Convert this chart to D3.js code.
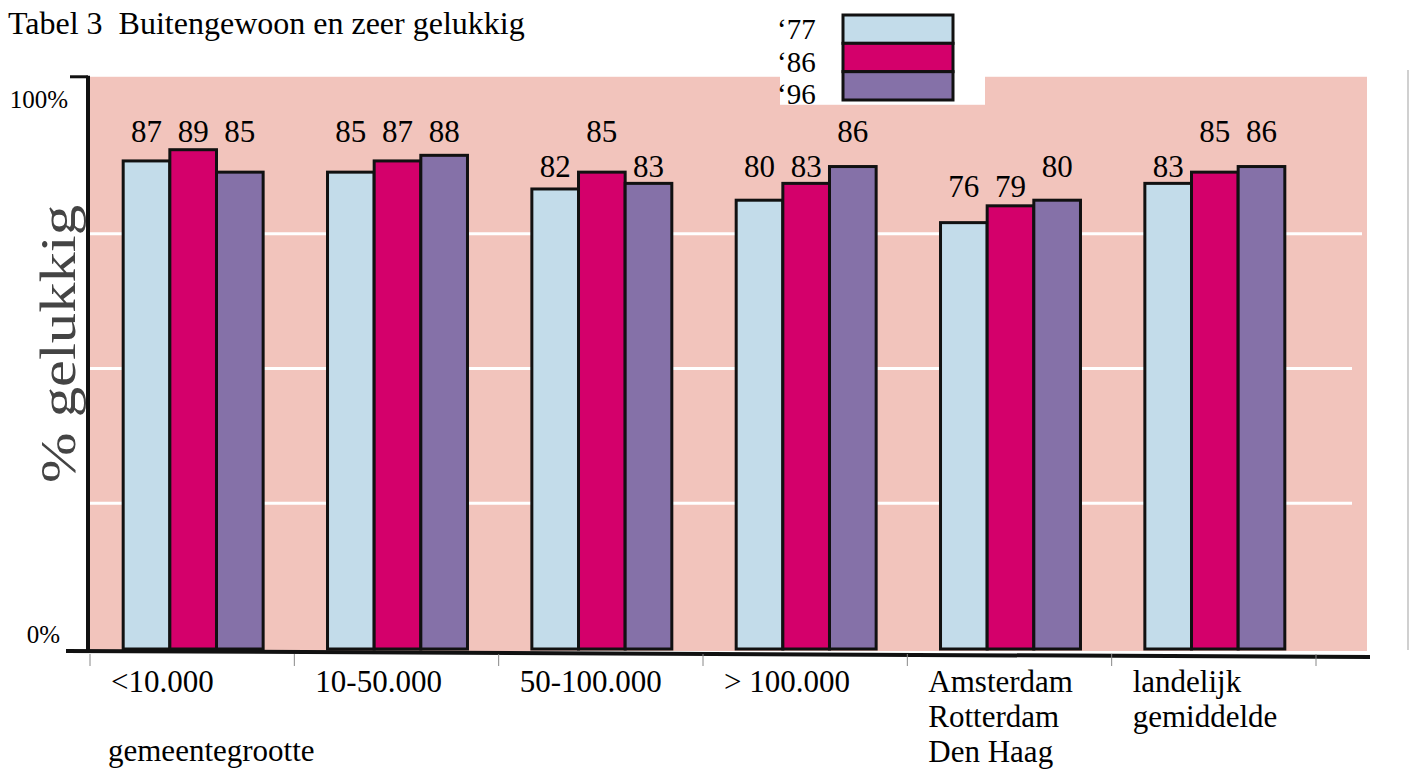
<!DOCTYPE html>
<html>
<head>
<meta charset="utf-8">
<script src="https://cdn.jsdelivr.net/npm/d3@7"></script>
<style>
  body { margin: 0; background: #fff; }
  text { font-family: "Liberation Serif", "Times New Roman", serif; fill: #000; }
</style>
</head>
<body>
<div id="cont"></div>
<script>
// data
var categories = ["<10.000", "10-50.000", "50-100.000", "> 100.000", "Amsterdam\nRotterdam\nDen Haag", "landelijk\ngemiddelde"];
var series = ["\u201877", "\u201886", "\u201896"];
var values77 = [87, 85, 82, 80, 76, 83];
var values86 = [89, 87, 85, 83, 79, 85];
var values96 = [85, 88, 83, 86, 80, 86];
var yTickLabels = ["0%", "100%"];
var gridValues = [26, 50, 74];
var colors = ["#c3dcea", "#d4006b", "#8571a8"];

var width = 1412, height = 771;

var svg = d3.select("#cont").append("svg")
  .attr("width", width)
  .attr("height", height);

var xScale = d3.scaleBand().domain(categories).range([91, 1317]).paddingInner(0.315).paddingOuter(0.1575),
  xInner = d3.scaleBand().domain(series).range([0, xScale.bandwidth()]),
  yScale = d3.scaleLinear().domain([0, 100]).range([649, 88]);

var step = xScale.step();
var plotLeft = 88, plotRight = 1367, plotTop = yScale(102), plotBottom = yScale(0) + 2;

// rows of values per bar
var rows = categories.map(function(c, i) {
  return { cat: c, vals: [values77[i], values86[i], values96[i]] };
});

// pink background
svg.append("rect")
  .attr("x", plotLeft)
  .attr("y", plotTop)
  .attr("width", plotRight - plotLeft)
  .attr("height", plotBottom - plotTop)
  .attr("fill", "#f2c4bc");

// white cut-out behind the legend
svg.append("rect")
  .attr("x", 780)
  .attr("y", plotTop - 2)
  .attr("width", 205)
  .attr("height", 30)
  .attr("fill", "#fff");

// thin grey line at the far right
svg.append("line")
  .attr("x1", 1408).attr("x2", 1408)
  .attr("y1", 70).attr("y2", 650)
  .attr("stroke", "#d0d0d0")
  .attr("stroke-width", 2);

// white grid lines
svg.append("g")
  .selectAll("line")
  .data(gridValues)
  .enter().append("line")
  .attr("x1", plotLeft)
  .attr("x2", function(d, i) { return i == 2 ? plotRight - 5 : plotRight - 15; })
  .attr("y1", function(d) { return yScale(d); })
  .attr("y2", function(d) { return yScale(d); })
  .attr("stroke", "#fff")
  .attr("stroke-width", 3);

// bars
var groups = svg.append("g")
  .selectAll(".group")
  .data(rows)
  .enter().append("g")
  .attr("class", "group")
  .attr("transform", function(d) { return "translate(" + xScale(d.cat) + ",0)"; });

groups.selectAll(".bar")
  .data(function(d) { return d.vals.map(function(v, j) { return { s: series[j], v: v, j: j }; }); })
  .enter().append("rect")
  .attr("class", "bar")
  .attr("x", function(d) { return xInner(d.s); })
  .attr("y", function(d) { return yScale(d.v); })
  .attr("width", xInner.bandwidth())
  .attr("height", function(d) { return yScale(0) - yScale(d.v); })
  .attr("fill", function(d) { return colors[d.j]; })
  .attr("stroke", "#111")
  .attr("stroke-width", 3);

// value labels sit on three rows
var labelRow = d3.scaleThreshold().domain([80, 85]).range([80.6, 84.2, 90.4]);

groups.selectAll(".val")
  .data(function(d) { return d.vals.map(function(v, j) { return { s: series[j], v: v }; }); })
  .enter().append("text")
  .attr("class", "val")
  .attr("x", function(d) { return xInner(d.s) + xInner.bandwidth() / 2; })
  .attr("y", function(d) { return yScale(labelRow(d.v)); })
  .attr("text-anchor", "middle")
  .style("font-size", "31px")
  .text(function(d) { return d.v; });

// axes
svg.append("line")
  .attr("x1", plotLeft).attr("x2", plotLeft)
  .attr("y1", plotTop - 1).attr("y2", plotBottom + 1)
  .attr("stroke", "#111").attr("stroke-width", 4);

svg.append("line")
  .attr("x1", 70).attr("x2", plotLeft)
  .attr("y1", plotTop).attr("y2", plotTop)
  .attr("stroke", "#111").attr("stroke-width", 3);

svg.append("line")
  .attr("x1", 66).attr("x2", plotRight + 3)
  .attr("y1", plotBottom).attr("y2", plotBottom + 6)
  .attr("stroke", "#111").attr("stroke-width", 4);

// small ticks at category boundaries
svg.append("g")
  .selectAll("line")
  .data(d3.range(categories.length + 1))
  .enter().append("line")
  .attr("x1", function(i) { return 90 + i * step; })
  .attr("x2", function(i) { return 90 + i * step; })
  .attr("y1", plotBottom + 3)
  .attr("y2", plotBottom + 15)
  .attr("stroke", "#888")
  .attr("stroke-width", 1);

// y tick labels
svg.append("text")
  .attr("x", 68)
  .attr("y", yScale(100) + 20)
  .attr("text-anchor", "end")
  .style("font-size", "25px")
  .text(yTickLabels[1]);

svg.append("text")
  .attr("x", 60)
  .attr("y", yScale(0) - 6)
  .attr("text-anchor", "end")
  .style("font-size", "25px")
  .text(yTickLabels[0]);

// y title
svg.append("text")
  .attr("transform", "translate(75," + 344 + ") rotate(-90)")
  .attr("text-anchor", "middle")
  .attr("textLength", 278)
  .attr("lengthAdjust", "spacingAndGlyphs")
  .style("font-size", "50px")
  .style("fill", "#444")
  .text("% gelukkig");

// category labels
svg.append("g")
  .selectAll("text")
  .data(categories)
  .enter().append("text")
  .attr("x", function(d) { return xScale(d) - xScale.step() * xScale.paddingInner() / 2 + 20; })
  .attr("y", 692)
  .style("font-size", "31px")
  .each(function(d) {
    var t = d3.select(this);
    var x = t.attr("x");
    d.split("\n").forEach(function(line, k) {
      t.append("tspan").attr("x", x).attr("dy", k == 0 ? 0 : 35).text(line);
    });
  });

svg.append("text")
  .attr("x", 108)
  .attr("y", 761)
  .style("font-size", "31px")
  .text("gemeentegrootte");

// title
svg.append("text")
  .attr("x", 8)
  .attr("y", 34)
  .style("font-size", "32px")
  .text("Tabel 3\u00a0\u00a0Buitengewoon en zeer gelukkig");

// legend
var legendY = d3.scaleBand().domain(series).range([15, 100]);
var legend = svg.append("g");

legend.selectAll("rect")
  .data(series)
  .enter().append("rect")
  .attr("x", 843)
  .attr("y", function(d) { return legendY(d); })
  .attr("width", 110)
  .attr("height", legendY.bandwidth())
  .attr("fill", function(d, i) { return colors[i]; })
  .attr("stroke", "#111")
  .attr("stroke-width", 3);

legend.selectAll("text")
  .data(series)
  .enter().append("text")
  .attr("x", 777)
  .attr("y", function(d, i) { return legendY(d) + legendY.bandwidth() / 2 + 10 + i * 4; })
  .style("font-size", "29px")
  .text(function(d) { return d; });
</script>
</body>
</html>
